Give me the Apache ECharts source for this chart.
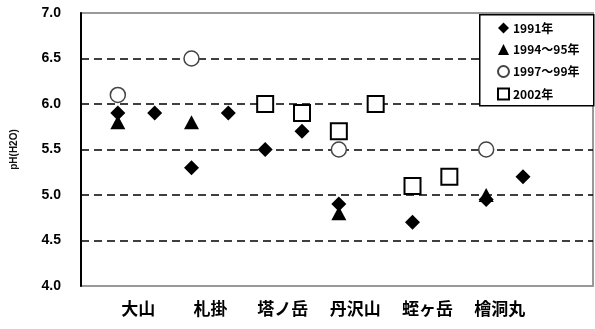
<!DOCTYPE html>
<html>
<head>
<meta charset="utf-8">
<script src="https://cdn.jsdelivr.net/npm/echarts@6/dist/echarts.min.js"></script>
<style>
  html, body { margin: 0; padding: 0; background: #fff; }
  #chart { width: 595px; height: 329px; }
</style>
</head>
<body>
<div id="chart"></div>
<script>
// Survey sites; each site has two plotting columns (left / right sub-site)
const sites = ['大山', '札掛', '塔ノ岳', '丹沢山', '蛭ヶ岳', '檜洞丸'];

// Soil pH(H2O) per column, 12 columns in all (null = no sample)
const ph1991   = [5.9, 5.9, 5.3, 5.9, 5.5, 5.7, 4.9, null, 4.7, null, 4.95, 5.2];
const ph1994_95 = [5.8, null, 5.8, null, null, null, 4.8, null, null, null, 5.0, null];
const ph1997_99 = [6.1, null, 6.5, null, null, null, 5.5, null, null, null, 5.5, null];
const ph2002   = [null, null, null, null, 6.0, 5.9, 5.7, 6.0, 5.1, 5.2, null, null];

const seriesNames = ['1991年', '1994～95年', '1997～99年', '2002年'];

// y axis range and step
const yMin = 4.0, yMax = 7.0, yStep = 0.5;

function toPoints(values) {
  const pts = [];
  values.forEach((v, i) => { if (v !== null) pts.push([i + 1, v]); });
  return pts;
}

const chart = echarts.init(document.getElementById('chart'), null, { renderer: 'canvas' });

const latin = '"Liberation Sans", Arial, sans-serif';
const cjk = '"Noto Sans CJK JP", "Noto Sans", sans-serif';

chart.setOption({
  animation: false,
  backgroundColor: '#fff',
  grid: [
    { left: 81, top: 13, right: 2, bottom: 43, show: true, borderColor: '#999', borderWidth: 2, backgroundColor: 'transparent' },
    { left: 102, top: 13, width: 434, bottom: 43, show: false }
  ],
  xAxis: [
    {
      type: 'value', gridIndex: 0, min: 0, max: 13.9,
      axisLine: { show: false }, axisTick: { show: false },
      axisLabel: { show: false }, splitLine: { show: false }
    },
    {
      type: 'category', gridIndex: 1, data: sites, boundaryGap: true,
      axisLine: { show: false }, axisTick: { show: false },
      axisLabel: { color: '#000', fontFamily: cjk, fontWeight: 'bold', fontSize: 17, margin: 14 },
      splitLine: { show: false }
    }
  ],
  yAxis: [
    {
      type: 'value', gridIndex: 0, min: yMin, max: yMax, interval: yStep,
      name: 'pH(H2O)', nameLocation: 'middle', nameGap: 62, nameRotate: 90,
      nameTextStyle: { color: '#111', fontFamily: latin, fontSize: 10, fontWeight: 'bold' },
      axisLine: { show: true, lineStyle: { color: '#000', width: 2 } },
      axisTick: { show: false },
      axisLabel: {
        color: '#000', fontFamily: latin, fontWeight: 'bold', fontSize: 14, margin: 20,
        formatter: v => v.toFixed(1)
      },
      splitLine: {
        show: true, showMinLine: false, showMaxLine: false,
        lineStyle: { color: '#000', width: 1.5, type: [8, 5] }
      }
    },
    { type: 'value', gridIndex: 1, show: false }
  ],
  graphic: [
    {
      type: 'rect', left: 479, top: 14, z: 3,
      shape: { width: 114, height: 91 },
      style: { fill: '#fff', stroke: '#000', lineWidth: 1.5 }
    }
  ],
  legend: {
    orient: 'vertical', left: 497, top: 22, padding: 0, z: 5,
    itemWidth: 11, itemHeight: 11, itemGap: 9.5,
    textStyle: { color: '#000', fontFamily: cjk, fontSize: 12, fontWeight: 'bold', lineHeight: 11, padding: [0, 0, 0, -1] },
    data: seriesNames
  },
  series: [
    {
      name: seriesNames[0], type: 'scatter', xAxisIndex: 0, yAxisIndex: 0,
      symbol: 'diamond', symbolSize: [15, 15],
      itemStyle: { color: '#000', opacity: 1 },
      data: toPoints(ph1991)
    },
    {
      name: seriesNames[1], type: 'scatter', xAxisIndex: 0, yAxisIndex: 0,
      symbol: 'triangle', symbolSize: [15, 14],
      itemStyle: { color: '#000', opacity: 1 },
      data: toPoints(ph1994_95)
    },
    {
      name: seriesNames[2], type: 'scatter', xAxisIndex: 0, yAxisIndex: 0,
      symbol: 'circle', symbolSize: 15,
      itemStyle: { color: '#fff', borderColor: '#444', borderWidth: 1.5, opacity: 1 },
      data: toPoints(ph1997_99)
    },
    {
      name: seriesNames[3], type: 'scatter', xAxisIndex: 0, yAxisIndex: 0,
      symbol: 'rect', symbolSize: 16,
      itemStyle: { color: '#fff', borderColor: '#000', borderWidth: 2, opacity: 1 },
      data: toPoints(ph2002)
    }
  ]
});
</script>
</body>
</html>
